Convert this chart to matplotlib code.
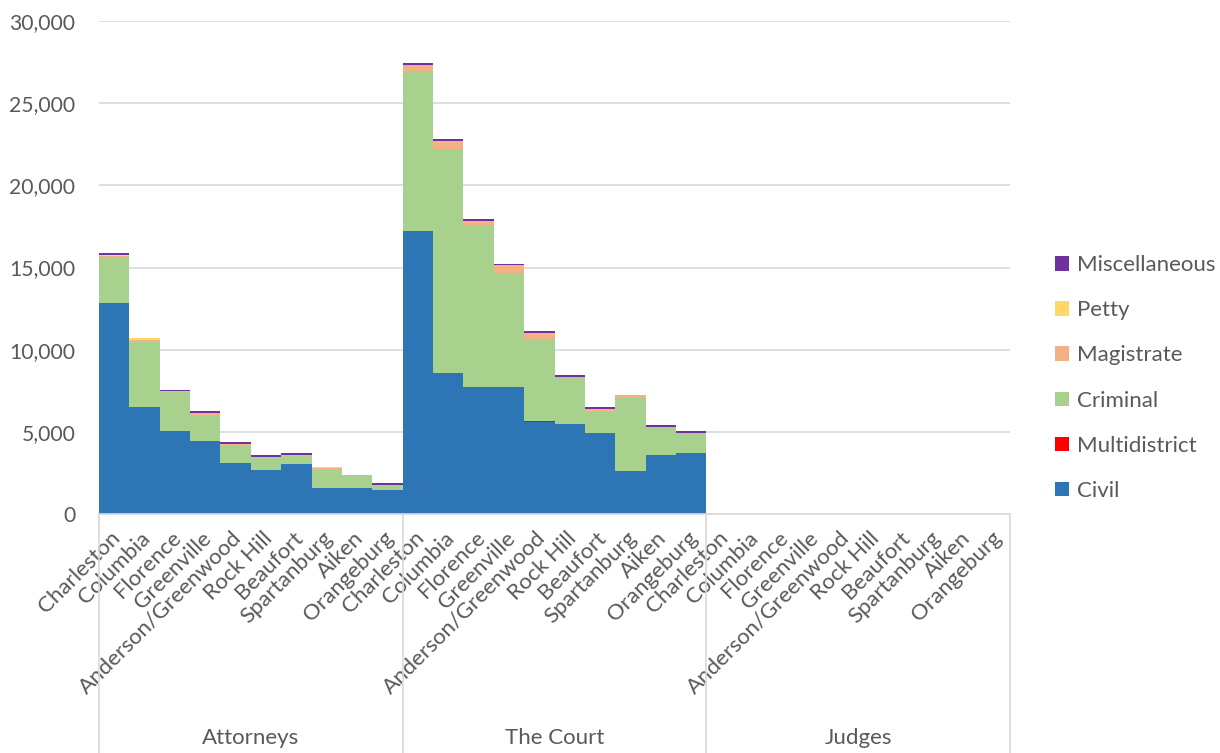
import numpy as np
import matplotlib.pyplot as plt
import matplotlib.transforms as mtransforms

plt.rcParams['font.family'] = ['Lato', 'DejaVu Sans']

cities = ['Charleston', 'Columbia', 'Florence', 'Greenville', 'Anderson/Greenwood',
          'Rock Hill', 'Beaufort', 'Spartanburg', 'Aiken', 'Orangeburg']
groups = ['Attorneys', 'The Court', 'Judges']

# values per group, 10 cities each (Attorneys, The Court, Judges)
civil = [12850, 6490, 5030, 4420, 3080, 2690, 3060, 1600, 1600, 1480,
         17210, 8560, 7710, 7710, 5610, 5490, 4900, 2600, 3570, 3690,
         0, 0, 0, 0, 0, 0, 0, 20, 20, 0]
multidistrict = [20, 0, 0, 20, 20, 0, 0, 0, 0, 0,
                 0, 0, 20, 20, 20, 0, 0, 0, 0, 0,
                 0, 0, 0, 0, 0, 0, 0, 0, 0, 0]
criminal = [2740, 3990, 2400, 1540, 1050, 735, 485, 1095, 770, 240,
            9730, 13640, 9830, 6910, 4990, 2820, 1320, 4480, 1700, 1215,
            0, 0, 0, 0, 0, 0, 0, 0, 0, 0]
magistrate = [120, 110, 40, 140, 140, 30, 30, 120, 0, 20,
              370, 490, 280, 500, 385, 0, 160, 160, 0, 20,
              0, 0, 0, 0, 0, 0, 0, 0, 0, 0]
petty = [20, 150, 0, 0, 0, 0, 0, 20, 0, 0,
         0, 0, 0, 0, 0, 0, 0, 0, 0, 0,
         0, 0, 0, 0, 0, 0, 0, 0, 0, 0]
misc = [110, 0, 100, 120, 120, 120, 120, 0, 0, 120,
        120, 120, 100, 100, 120, 120, 120, 0, 120, 120,
        0, 0, 0, 0, 0, 0, 0, 0, 0, 0]

series = [('Civil', civil, '#2E75B6'),
          ('Multidistrict', multidistrict, '#FF0000'),
          ('Criminal', criminal, '#A9D18E'),
          ('Magistrate', magistrate, '#F4B183'),
          ('Petty', petty, '#FFD966'),
          ('Miscellaneous', misc, '#7030A0')]

fs = 16
grey = '#595959'

fig = plt.figure(figsize=(12.2, 7.53), dpi=100)
ax = fig.add_axes([99 / 1220, 1 - 514 / 753, 911 / 1220, 493 / 753])

x = np.arange(len(cities) * len(groups))
bottom = np.zeros(len(x))
handles = []
for name, vals, col in series:
    vals = np.array(vals, dtype=float)
    h = ax.bar(x, vals, width=1.0, bottom=bottom, color=col, linewidth=0, label=name)
    handles.append(h)
    bottom += vals

ax.set_xlim(-0.5, len(x) - 0.5)
ax.set_ylim(0, 30000)
ax.set_yticks(np.arange(0, 30001, 5000))
ax.set_yticklabels([f'{v:,}' for v in range(0, 30001, 5000)])
ax.yaxis.grid(True, color='#D9D9D9', linewidth=1.2)
ax.set_axisbelow(True)
for s in ['top', 'right', 'left']:
    ax.spines[s].set_visible(False)
ax.spines['bottom'].set_color('#D9D9D9')
ax.spines['bottom'].set_linewidth(1.2)
ax.tick_params(axis='y', length=0, pad=17, labelsize=15.2, labelcolor=grey)
ax.tick_params(axis='x', length=0, pad=10, labelsize=fs, labelcolor=grey)

ax.set_xticks(x)
ax.set_xticklabels(cities * len(groups), rotation=45, ha='right', rotation_mode='anchor')
shift = mtransforms.ScaledTranslation(-4 / 100, 0, fig.dpi_scale_trans)
for lbl in ax.get_xticklabels():
    lbl.set_transform(lbl.get_transform() + shift)

trans = ax.get_xaxis_transform()
low = -(753 - 514) / 493
for b in [-0.5, 9.5, 19.5, 29.5]:
    ax.plot([b, b], [0, low], transform=trans, color='#D9D9D9', linewidth=1.2, clip_on=False)
for i, g in enumerate(groups):
    ax.text(i * 10 + 4.5, -(738 - 514) / 493, g, transform=trans, ha='center', va='center',
            fontsize=fs, color=grey)

leg = fig.legend(handles[::-1], [s[0] for s in series][::-1], loc='center left',
                 bbox_to_anchor=(1055 / 1220, 1 - 378 / 753), frameon=False,
                 borderaxespad=0, borderpad=0,
                 fontsize=fs, labelcolor=grey, handlelength=0.62, handleheight=0.62,
                 handletextpad=0.35, labelspacing=1.13)

fig.savefig('out.png', dpi=100)
